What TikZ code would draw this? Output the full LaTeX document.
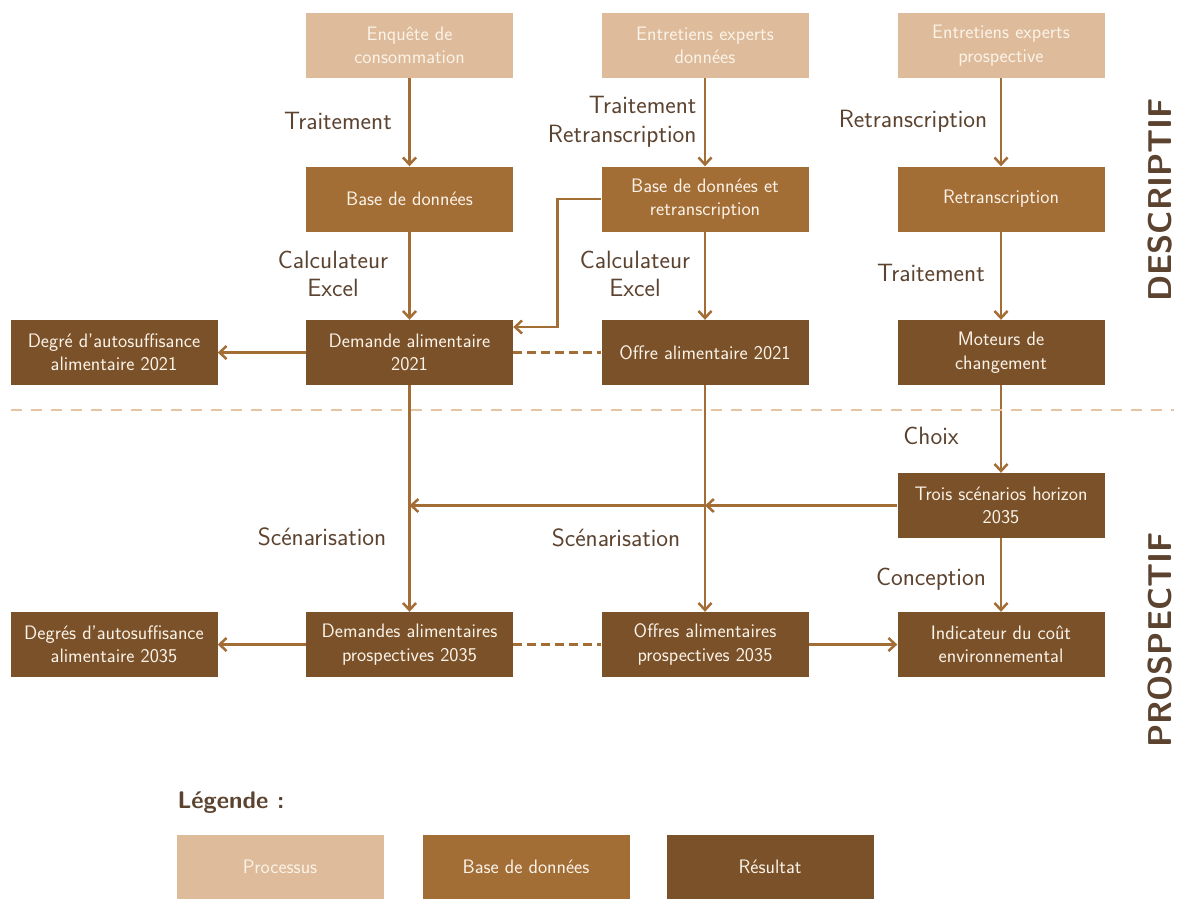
\documentclass[tikz,border=0pt]{standalone}
\usepackage{fontspec}
\usetikzlibrary{arrows.meta,calc}
\definecolor{proc}{HTML}{DEBB9A}
\definecolor{bdd}{HTML}{A36D36}
\definecolor{res}{HTML}{7A5129}
\definecolor{lbl}{HTML}{5C4330}
\definecolor{cream}{HTML}{FBF3E8}
\definecolor{divc}{HTML}{E6C4A2}
\begin{document}
\begin{tikzpicture}[x=1pt,y=-1pt,
  box/.style={minimum width=207pt,minimum height=65pt,inner sep=2pt,align=center,
    text=cream,font=\sffamily\fontsize{19.5}{23.5}\selectfont},
  pbox/.style={box,fill=proc},
  dbox/.style={box,fill=bdd},
  rbox/.style={box,fill=res},
  lab/.style={text=lbl,align=center,font=\sffamily\fontsize{25}{28.5}\selectfont},
  arr/.style={draw=bdd,line width=2.5pt,-{Straight Barb[length=7pt,width=13pt,line width=2.5pt]}},
  lin/.style={draw=bdd,line width=2.5pt},
  dsh/.style={draw=bdd,line width=2.5pt,dash pattern=on 9pt off 5pt},
  side/.style={text=lbl,font=\sffamily\bfseries\fontsize{33}{38}\selectfont,rotate=90}
]
\useasboundingbox (0,0) rectangle (1182,898);

% row 1
\node[pbox] (enq) at (409.5,45.5) {Enquête de\\consommation};
\node[pbox] (entd) at (705,45.5) {Entretiens experts\\données};
\node[pbox] (entp) at (1001,45.5) {Entretiens experts\\prospective};
% row 2
\node[dbox] (bdd1) at (409.5,199) {Base de données};
\node[dbox] (bdr) at (705,199) {Base de données et\\retranscription};
\node[dbox] (retr) at (1001,199) {Retranscription};
% row 3
\node[rbox] (deg21) at (114,352.5) {Degré d'autosuffisance\\alimentaire 2021};
\node[rbox] (dem) at (409.5,352.5) {Demande alimentaire\\2021};
\node[rbox] (off) at (705,352.5) {Offre alimentaire 2021};
\node[rbox] (mot) at (1001,352.5) {Moteurs de\\changement};
% row 4
\node[rbox] (trois) at (1001,505.5) {Trois scénarios horizon\\2035};
% row 5
\node[rbox] (deg35) at (114,644.5) {Degrés d'autosuffisance\\alimentaire 2035};
\node[rbox] (dems) at (409.5,644.5) {Demandes alimentaires\\prospectives 2035};
\node[rbox] (offs) at (705,644.5) {Offres alimentaires\\prospectives 2035};
\node[rbox] (ind) at (1001,644.5) {Indicateur du coût\\environnemental};

% labels
\node[lab] (l1) at (338,121) {Traitement};
\node[lab,anchor=east,align=right] (l2) at (700,122) {Traitement\\Retranscription};
\node[lab] (l3) at (913,121) {Retranscription};
\node[lab] (l4) at (333,274) {Calculateur\\Excel};
\node[lab] (l5) at (635,274) {Calculateur\\Excel};
\node[lab] (l6) at (931,273) {Traitement};
\node[lab] (l7) at (931,436) {Choix};
\node[lab] (l8) at (322,537) {Scénarisation};
\node[lab] (l9) at (616,538) {Scénarisation};
\node[lab] (l10) at (931,579) {Conception};

% connectors
\draw[arr] (enq) -- (bdd1);
\draw[arr] (entd) -- (bdr);
\draw[arr] (entp) -- (retr);
\draw[arr] (bdd1) -- (dem);
\draw[arr] (bdr) -- (off);
\draw[arr] (retr) -- (mot);
\draw[arr] (bdr.west) -- ++(-44,0) |- ([yshift=25.5pt]dem.east);
\draw[arr] (dem) -- (deg21);
\draw[dsh] (dem) -- (off);
\draw[arr] (dem) -- (dems);
\draw[arr] (off) -- (offs);
\draw[arr] (mot) -- (trois);
\coordinate (c2) at (off.south |- trois.west);
\coordinate (c1) at (dem.south |- trois.west);
\draw[arr] (trois.west) -- (c2);
\draw[arr] (c2) -- (c1);
\draw[arr] (trois) -- (ind);
\draw[arr] (dems) -- (deg35);
\draw[dsh] (dems) -- (offs);
\draw[arr] (offs) -- (ind);

% divider
\coordinate (dl) at (11,410);
\coordinate (dr) at (1174,410);
\draw[divc,line width=2.5pt,dash pattern=on 11pt off 9pt] (dl) -- (dr);

% side titles
\node[side] (desc) at (1160,200) {DESCRIPTIF};
\node[side] (pros) at (1160,640) {PROSPECTIF};

% legend
\node[text=lbl,anchor=west,font=\sffamily\bfseries\fontsize{24}{28}\selectfont] (leg) at (174,803) {Légende :};
\node[pbox] (lp) at (280,867) {Processus};
\node[dbox] (ld) at (526,867) {Base de données};
\node[rbox] (lr) at (770,867) {Résultat};
\end{tikzpicture}
\end{document}
